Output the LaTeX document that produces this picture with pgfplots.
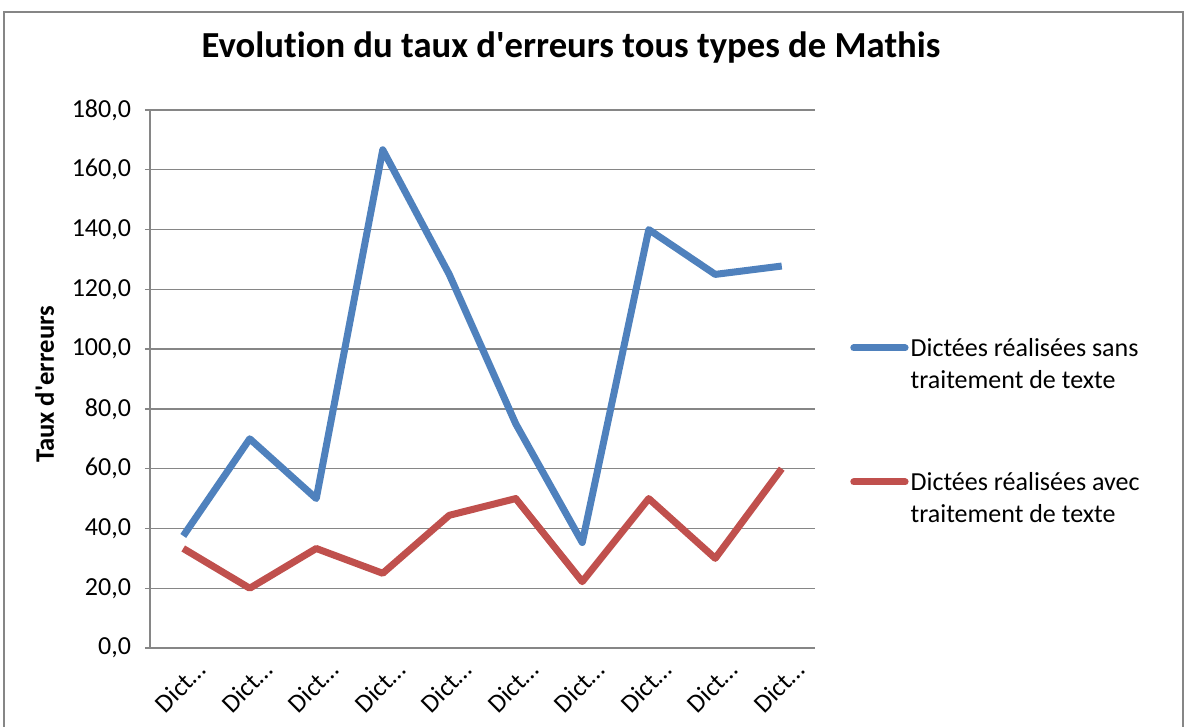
\documentclass[border=0pt]{standalone}
\usepackage{pgfplots}
\pgfplotsset{compat=1.18}
\usepackage{fontspec}
\setmainfont{Carlito}[Ligatures={NoCommon}]
\definecolor{xlblue}{HTML}{4F81BD}
\definecolor{xlred}{HTML}{C0504D}
\definecolor{xlgrid}{HTML}{868686}
\begin{document}
\begin{tikzpicture}
\useasboundingbox (0,0) rectangle (890.25pt,-544.5pt);
\clip (0,0) rectangle (890.25pt,-544.5pt);
\draw[xlgrid, line width=1.5pt] (3pt,-9pt) rectangle (887.25pt,-600pt);
\node[font=\bfseries\fontsize{27.5}{30}\selectfont] at (428.25pt,-36pt) {Evolution du taux d\textquotesingle erreurs tous types de Mathis};
\begin{axis}[
  at={(112.5pt,-486pt)}, anchor=south west,
  scale only axis, width=498.75pt, height=403.5pt,
  xmin=0.5, xmax=10.5, ymin=0, ymax=180,
  xtick={1,...,10},
  xticklabels={Dict…,Dict…,Dict…,Dict…,Dict…,Dict…,Dict…,Dict…,Dict…,Dict…},
  ytick={0,20,...,180},
  axis x line*=bottom, axis y line*=left,
  axis line style={xlgrid, line width=1pt, -},
  ymajorgrids, grid style={xlgrid, line width=1pt},
  major x tick style={draw=none},
  major y tick style={xlgrid, line width=1pt},
  tick align=outside, major tick length=3.75pt,
  tick label style={font=\fontsize{19.5}{22}\selectfont},
  /pgf/number format/assume math mode=true,
  yticklabel={\pgfmathprintnumber[fixed, fixed zerofill, precision=1, use comma]{\tick}},
  yticklabel style={xshift=-7pt},
  xticklabel style={rotate=45, anchor=north east, xshift=6.5pt, yshift=-6pt},
  ylabel={Taux d\textquotesingle erreurs},
  ylabel style={font=\bfseries\fontsize{20}{22}\selectfont, at={(axis description cs:-0.137,0.49)}, anchor=south},
  legend style={at={(axis description cs:1.0466,0.584)}, anchor=north west, draw=none, fill=none,
    font=\fontsize{19.5}{23.5}\selectfont, row sep=59pt,
    nodes={align=left, inner sep=1.5pt}},
  legend cell align=left,
  legend image code/.code={\draw[#1, line cap=round] (0pt,12.4pt) -- (38.5pt,12.4pt);},
  every axis plot/.append style={line width=5.25pt, line join=round},
]
\addplot[xlblue] coordinates {(1,37.5) (2,70) (3,50) (4,166.7) (5,125) (6,75) (7,35.3) (8,140) (9,125) (10,127.8)};
\addlegendentry{Dictées réalisées sans\\traitement de texte}
\addplot[xlred] coordinates {(1,33.3) (2,20) (3,33.3) (4,25) (5,44.4) (6,50) (7,22.2) (8,50) (9,30) (10,60)};
\addlegendentry{Dictées réalisées avec\\traitement de texte}
\end{axis}
\end{tikzpicture}
\end{document}
